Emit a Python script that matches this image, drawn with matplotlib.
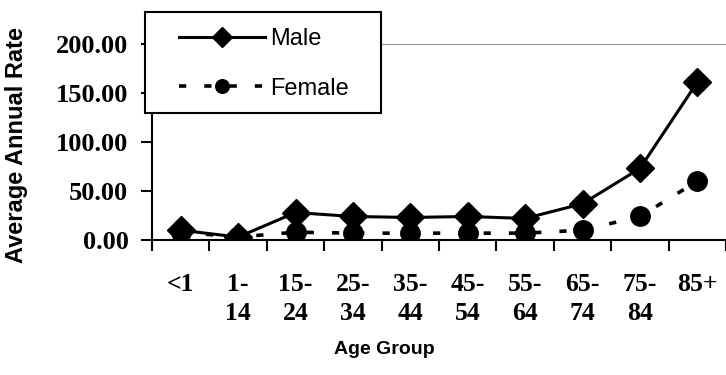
import numpy as np
import matplotlib.pyplot as plt
from matplotlib.patches import Rectangle

age_groups = ['<1', '1-\n14', '15-\n24', '25-\n34', '35-\n44', '45-\n54',
              '55-\n64', '65-\n74', '75-\n84', '85+']
male = [10, 3, 28, 24, 23, 24, 22, 37, 73, 161]
female = [8, 3, 8, 7, 7, 7, 7, 10, 24, 60]

serif = 'Liberation Serif'
sans = 'Liberation Sans'
W, H = 726, 375

fig = plt.figure(figsize=(W/100, H/100), dpi=100)
ax = fig.add_axes([152/W, 1-240/H, 574/W, 196/H])

x = np.arange(len(age_groups))
ml, = ax.plot(x, male, color='black', lw=2.2, marker='D', ms=14, label='Male')
fl, = ax.plot(x, female, color='black', lw=2.6, ls=(0, (2, 5)), marker='o', ms=14,
              label='Female')

ax.set_xlim(-0.5, len(age_groups)-0.5)
ax.set_ylim(0, 200)
ax.axhline(200, color='gray', lw=1.2, zorder=0)
for s in ['top', 'right']:
    ax.spines[s].set_visible(False)
ax.spines['left'].set_linewidth(1.5)
ax.spines['bottom'].set_linewidth(1.5)

ax.set_yticks([0, 50, 100, 150, 200])
ax.set_yticklabels(['%.2f' % v for v in [0, 50, 100, 150, 200]],
                   fontfamily=serif, fontweight='bold', fontsize=19)
ax.tick_params(axis='y', length=8, width=1.5, pad=9)

ax.set_xticks(x)
ax.set_xticklabels(age_groups, fontfamily=serif, fontweight='bold', fontsize=18.5,
                   linespacing=1.3)
ax.tick_params(axis='x', length=0, pad=24)
ax.set_xticks(np.arange(len(age_groups)+1) - 0.5, minor=True)
ax.tick_params(axis='x', which='minor', length=8, width=1.5)

ax.set_ylabel('Average Annual Rate', fontfamily=sans, fontweight='bold', fontsize=17)
ax.yaxis.set_label_coords(-0.216, 0.487)
fig.text(384/W, 1-350/H, 'Age Group', fontfamily=sans, fontweight='bold',
         fontsize=14, ha='center', va='center')

# legend box
fig.add_artist(Rectangle((145/W, 1-113/H), 236/W, 101/H, transform=fig.transFigure,
                         facecolor='white', edgecolor='black', lw=1.5, zorder=4))
leg = fig.legend(handles=[ml, fl], loc='upper left',
                 bbox_to_anchor=(179/W, 1-28/H), frameon=False,
                 prop={'family': sans, 'size': 17}, markerscale=0.7,
                 handlelength=3.65, handletextpad=0.2, labelspacing=1.17,
                 borderpad=0, borderaxespad=0)
leg.set_zorder(5)

fig.savefig('out.png', dpi=100)
